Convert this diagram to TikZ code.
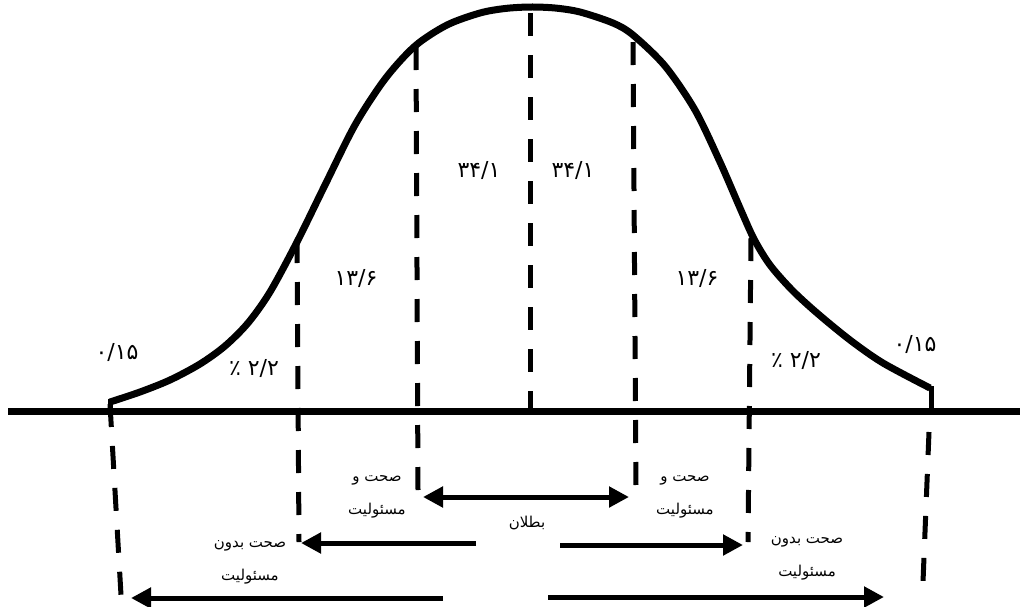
\documentclass[tikz,border=0pt]{standalone}
\usepackage{fontspec}
\newfontfamily\fa[Script=Arabic]{DejaVu Sans}
\TeXXeTstate=1
\usetikzlibrary{arrows.meta}
\begin{document}
\begin{tikzpicture}[x=1pt,y=-1pt,
  curveline/.style={line width=7pt,line join=round,line cap=butt},
  baseline/.style={line width=7pt},
  vdash/.style={line width=5pt,dash pattern=on 23pt off 19pt},
  tick/.style={line width=5pt},
  arr/.style={line width=5pt,-{Triangle[length=20pt,width=20pt]}},
  darr/.style={line width=5pt,{Triangle[length=20pt,width=20pt]}-{Triangle[length=20pt,width=20pt]}},
  num/.style={font=\fa\fontsize{22}{26}\selectfont,inner sep=0pt},
  lbl/.style={font=\fa\fontsize{15}{33}\selectfont,align=center,inner sep=0pt}]
\useasboundingbox (0,0) rectangle (1020,606);
% axis
\coordinate (axL) at (8,411);
\coordinate (axR) at (1020,411);
\draw[baseline] (axL) -- (axR);
% bell curve
\draw[curveline] plot[smooth,tension=0.5] coordinates {(110,402) (140,392) (170,380) (200,364) (225,346) (248,323) (270,292) (297,242) (325,185) (355,125) (385,79) (415,46) (447,25) (480,13) (505,8.5) (530,7) (555,8) (580,12) (613,23) (633,35) (665,66) (695,110) (720,162) (740,208) (754,239) (770,265) (792,290) (817,313) (850,340) (883,363) (930,388)};
% end ticks
\coordinate (lt1) at (110,399);
\coordinate (lt2) at (110,411);
\coordinate (rt1) at (931,386);
\coordinate (rt2) at (931,411);
\draw[tick] (lt1) -- (lt2);
\draw[tick] (rt1) -- (rt2);
% dashed verticals
\coordinate (c1) at (530,13);   \coordinate (c2) at (530,411);
\coordinate (a1) at (416,47);   \coordinate (a2) at (418,490);
\coordinate (b1) at (633,42);   \coordinate (b2) at (636,486);
\coordinate (d1) at (297,240);  \coordinate (d2) at (299,542);
\coordinate (e1) at (751,238);  \coordinate (e2) at (748,542);
\coordinate (f1) at (110,404);  \coordinate (f2) at (121,595);
\coordinate (g1) at (929,432);  \coordinate (g2) at (923,582);
\draw[vdash] (c1) -- (c2);
\draw[vdash] (a1) -- (a2);
\draw[vdash] (b1) -- (b2);
\draw[vdash] (d1) -- (d2);
\draw[vdash] (e1) -- (e2);
\draw[vdash] (f1) -- (f2);
\draw[vdash] (g1) -- (g2);
% arrows
\coordinate (p1) at (423,497); \coordinate (p2) at (629,497);
\draw[darr] (p1) -- (p2);
\coordinate (q1) at (476,543); \coordinate (q2) at (301,543);
\draw[arr] (q1) -- (q2);
\coordinate (r1) at (560,545); \coordinate (r2) at (743,545);
\draw[arr] (r1) -- (r2);
\coordinate (s1) at (443,598); \coordinate (s2) at (131,598);
\draw[arr] (s1) -- (s2);
\coordinate (t1) at (548,597); \coordinate (t2) at (884,597);
\draw[arr] (t1) -- (t2);
% numbers
\node[num] (n1) at (117,352) {۰/۱۵};
\node[num] (n2) at (254,368) {\beginR ۲/۲ ٪\endR};
\node[num] (n3) at (356,278) {۱۳/۶};
\node[num] (n4) at (479,170) {۳۴/۱};
\node[num] (n5) at (573,170) {۳۴/۱};
\node[num] (n6) at (697,278) {۱۳/۶};
\node[num] (n7) at (796,360) {\beginR ۲/۲ ٪\endR};
\node[num] (n8) at (915,344) {۰/۱۵};
% word labels
\node[lbl] (w1) at (377,497) {\beginR صحت و\endR\\\beginR مسئولیت\endR};
\node[lbl] (w2) at (685,497) {\beginR صحت و\endR\\\beginR مسئولیت\endR};
\node[lbl] (w3) at (527,523) {\beginR بطلان\endR};
\node[lbl] (w4) at (250,562) {\beginR صحت بدون\endR\\\beginR مسئولیت\endR};
\node[lbl] (w5) at (807,558) {\beginR صحت بدون\endR\\\beginR مسئولیت\endR};
\end{tikzpicture}
\end{document}
